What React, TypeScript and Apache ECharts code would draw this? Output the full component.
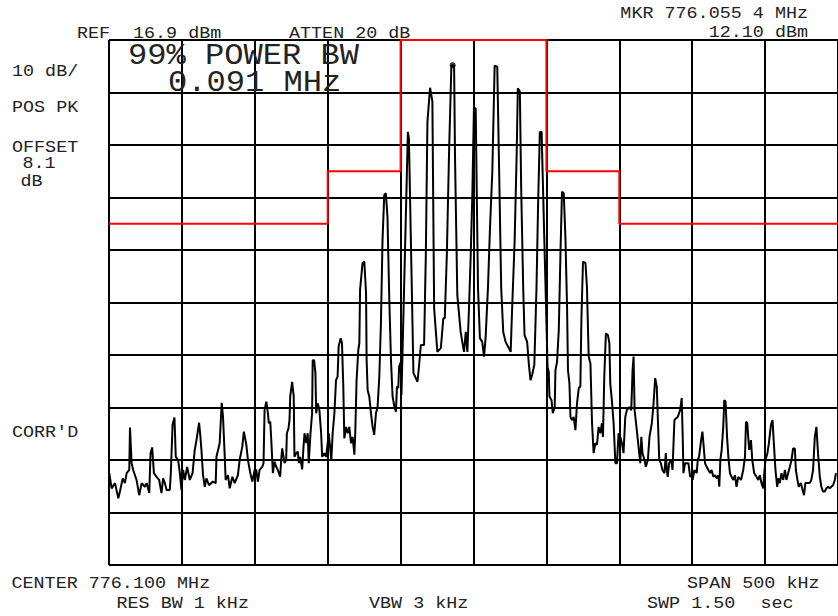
import React, { useEffect, useRef } from "react";
import * as echarts from "echarts";

// ---- instrument settings ----
const REF_DBM = 16.9;
const DB_RANGE = 100; // 10 dB/div x 10 div
const DB_PER_DIV = 10;
const SPAN_KHZ = 500;
const KHZ_PER_DIV = 50;

// ---- 99% power-bandwidth mask (red) ----
const MASK_FREQ_KHZ = [-250, -100, -100, -50, -50, 50, 50, 100, 100, 250];
const MASK_LEVEL_DBM = [-18.1, -18.1, -8.1, -8.1, 16.9, 16.9, -8.1, -8.1, -18.1, -18.1];

// ---- measured trace: [offset from center (kHz), level (dBm)] ----
const TRACE: [number, number][] = [
  [-249.8,-65.6],[-248.2,-68.5],[-245.9,-67.5],[-243.6,-70.4],[-242.5,-69.1],[-240.6,-66.6],[-239.1,-67.5],[-237.9,-65.6],[-236.1,-65.0],[-235.6,-56.9],
  [-234.5,-63.7],[-233.4,-65.0],[-231.1,-66.9],[-229.3,-69.8],[-227.6,-67.5],[-225.4,-68.2],[-224.2,-67.5],[-222.4,-69.4],[-221.5,-61.8],[-220.4,-60.7],
  [-219.2,-65.6],[-217.4,-66.3],[-215.6,-66.9],[-214.0,-69.4],[-212.9,-66.6],[-211.7,-67.5],[-210.5,-68.8],[-208.3,-68.8],[-207.6,-65.6],[-206.4,-56.4],
  [-205.1,-55.0],[-204.2,-62.5],[-202.6,-63.1],[-201.4,-65.6],[-200.3,-68.8],[-199.2,-65.0],[-198.0,-66.9],[-196.4,-64.4],[-194.6,-66.9],[-192.7,-65.6],
  [-191.2,-61.2],[-190.0,-59.3],[-188.2,-56.0],[-187.3,-58.7],[-186.6,-61.2],[-185.5,-66.0],[-184.3,-68.2],[-183.2,-66.6],[-181.4,-67.9],[-178.7,-67.2],
  [-176.8,-67.5],[-176.3,-62.5],[-174.1,-59.9],[-172.7,-52.2],[-171.8,-54.9],[-170.7,-61.8],[-170.0,-66.9],[-168.4,-66.0],[-167.2,-68.5],[-165.4,-66.3],
  [-163.8,-67.5],[-161.6,-66.0],[-160.4,-63.1],[-158.6,-60.6],[-157.5,-57.7],[-155.8,-60.2],[-154.7,-63.1],[-153.1,-65.6],[-151.7,-67.2],[-150.1,-65.0],
  [-149.0,-65.0],[-147.9,-67.2],[-146.7,-65.0],[-144.9,-64.4],[-144.0,-63.7],[-143.3,-53.6],[-142.1,-52.0],[-141.0,-54.2],[-140.4,-56.1],[-139.4,-55.8],
  [-138.7,-59.3],[-137.6,-65.6],[-136.5,-63.4],[-135.3,-64.4],[-134.2,-65.0],[-132.6,-66.3],[-131.9,-63.1],[-131.2,-60.9],[-130.3,-62.5],[-129.6,-63.7],
  [-128.5,-63.1],[-128.0,-58.0],[-126.9,-57.1],[-126.2,-55.5],[-125.7,-51.0],[-124.4,-48.2],[-123.3,-51.0],[-122.8,-62.5],[-121.6,-61.8],[-120.5,-61.5],
  [-119.8,-63.7],[-118.9,-62.5],[-117.5,-64.9],[-116.6,-60.6],[-115.9,-58.0],[-114.8,-59.9],[-113.7,-58.0],[-113.0,-63.7],[-111.8,-58.0],[-110.7,-54.2],
  [-110.3,-44.1],[-109.3,-44.1],[-108.4,-46.6],[-107.9,-54.2],[-106.8,-52.3],[-105.7,-53.6],[-104.5,-58.0],[-103.8,-62.5],[-102.3,-61.8],[-101.1,-62.5],
  [-100.0,-59.9],[-99.3,-58.0],[-98.4,-60.6],[-97.5,-63.1],[-96.6,-58.0],[-95.4,-54.2],[-94.3,-47.9],[-93.2,-47.2],[-92.5,-41.5],[-91.1,-39.9],
  [-90.2,-40.9],[-89.3,-49.1],[-88.6,-59.0],[-87.4,-56.8],[-86.3,-58.0],[-85.2,-56.8],[-84.0,-59.9],[-82.9,-58.7],[-81.7,-62.1],[-81.1,-58.0],
  [-80.2,-47.9],[-79.0,-42.1],[-78.3,-40.9],[-77.8,-30.7],[-76.1,-25.6],[-74.9,-25.3],[-73.7,-31.3],[-73.3,-44.1],[-72.6,-49.8],[-71.5,-51.0],
  [-70.3,-54.2],[-69.2,-56.8],[-68.1,-58.3],[-66.9,-54.2],[-65.8,-53.0],[-64.6,-47.2],[-63.5,-37.1],[-62.4,-21.2],[-61.2,-12.6],[-60.1,-12.3],
  [-59.0,-16.8],[-57.8,-32.0],[-56.6,-44.1],[-55.5,-51.0],[-54.2,-53.0],[-53.2,-53.9],[-52.5,-49.1],[-51.6,-49.4],[-51.0,-45.3],[-49.8,-44.4],
  [-49.4,-50.7],[-45.0,-0.6],[-44.3,-1.8],[-41.2,-46.5],[-38.4,-48.2],[-37.3,-45.0],[-36.1,-41.2],[-33.9,-41.2],[-32.7,-24.1],[-31.6,1.3],
  [-29.8,7.8],[-28.2,5.2],[-27.0,-34.2],[-25.8,-38.7],[-24.8,-42.5],[-22.4,-41.8],[-20.7,-36.1],[-19.7,-36.1],[-18.3,-24.1],[-16.8,-5.0],
  [-15.2,11.8],[-14.3,12.1],[-13.3,11.9],[-12.7,-5.0],[-11.1,-31.7],[-8.8,-38.7],[-7.7,-40.6],[-6.5,-42.5],[-5.3,-38.7],[-4.2,-42.5],
  [-3.1,-34.2],[-1.9,-24.1],[-0.8,-12.6],[0.3,3.9],[1.5,3.9],[2.2,-11.3],[3.1,-30.4],[4.4,-39.9],[6.0,-40.6],[7.2,-43.4],
  [8.3,-39.9],[9.9,-30.4],[11.3,-19.0],[12.9,-8.2],[14.5,12.0],[16.3,11.8],[17.4,-5.0],[19.0,-30.4],[20.4,-38.7],[22.0,-40.6],
  [24.3,-41.8],[25.5,-42.5],[26.5,-34.2],[28.2,-21.5],[29.6,-5.0],[30.4,7.7],[31.8,7.1],[32.7,-11.3],[34.1,-30.4],[35.0,-39.3],
  [36.8,-40.6],[38.0,-45.0],[39.1,-47.9],[40.2,-46.9],[41.7,-45.0],[43.2,-30.4],[44.3,-14.5],[45.5,-0.6],[46.7,-0.6],[50.8,-45.4],
  [51.6,-46.3],[52.1,-51.0],[53.5,-51.7],[54.4,-54.2],[55.7,-53.0],[56.2,-46.0],[57.3,-44.4],[58.5,-38.3],[59.7,-23.1],[60.7,-12.0],
  [61.9,-12.3],[63.1,-21.2],[64.2,-34.5],[64.8,-46.0],[65.8,-48.5],[66.5,-54.9],[67.6,-55.5],[68.7,-54.9],[69.9,-57.4],[71.0,-52.3],
  [72.2,-49.4],[73.3,-49.1],[74.0,-36.4],[75.1,-25.3],[76.8,-25.6],[77.8,-30.1],[79.0,-43.4],[80.2,-44.7],[81.3,-56.1],[82.4,-61.8],
  [83.6,-59.9],[84.7,-60.2],[85.8,-56.8],[87.0,-58.0],[88.1,-56.1],[88.8,-58.7],[89.7,-47.2],[90.8,-39.0],[92.2,-39.3],[93.2,-40.9],
  [93.8,-48.5],[94.9,-51.7],[96.1,-56.1],[97.3,-63.7],[98.4,-63.7],[99.5,-58.0],[100.7,-58.7],[101.8,-59.9],[102.9,-61.8],[104.1,-54.9],
  [105.2,-53.6],[106.8,-53.0],[108.2,-53.6],[109.1,-46.0],[109.8,-43.4],[110.5,-53.6],[112.0,-57.4],[113.2,-60.6],[114.4,-63.7],[115.1,-58.7],
  [115.9,-61.8],[117.3,-63.1],[118.2,-64.4],[119.6,-63.1],[120.7,-58.7],[122.3,-56.1],[123.5,-52.3],[124.6,-47.5],[125.7,-49.1],[126.4,-54.9],
  [127.4,-63.1],[128.5,-63.7],[129.6,-65.0],[131.0,-65.6],[131.9,-61.8],[132.6,-65.0],[133.2,-66.3],[134.2,-63.7],[135.6,-63.1],[136.5,-65.0],
  [137.8,-55.5],[138.7,-55.2],[140.1,-54.9],[141.7,-53.6],[142.8,-51.3],[143.5,-58.7],[144.0,-65.6],[145.1,-63.7],[147.4,-63.7],[148.6,-66.3],
  [149.7,-66.0],[150.3,-66.9],[151.5,-65.0],[153.1,-65.6],[153.8,-63.1],[154.7,-62.5],[156.1,-59.3],[157.0,-57.7],[157.9,-60.6],[158.8,-63.7],
  [159.9,-64.4],[161.1,-65.0],[162.3,-65.6],[163.3,-65.0],[164.5,-66.3],[165.7,-66.0],[166.8,-66.6],[167.9,-66.0],[168.6,-68.2],[169.3,-63.1],
  [170.2,-61.2],[171.3,-56.8],[172.0,-51.7],[172.9,-52.0],[173.9,-58.7],[174.8,-62.5],[175.9,-65.6],[177.0,-66.3],[178.2,-66.9],[179.3,-66.0],
  [180.4,-68.2],[181.6,-66.3],[183.5,-66.9],[185.0,-65.0],[186.2,-62.5],[186.9,-55.8],[187.8,-56.1],[188.4,-58.7],[189.1,-61.2],[190.3,-59.3],
  [191.2,-63.1],[192.5,-65.6],[194.1,-66.3],[195.3,-66.9],[196.4,-66.0],[197.5,-67.5],[198.7,-68.5],[199.4,-65.6],[200.3,-63.1],[201.6,-61.8],
  [202.6,-59.9],[204.0,-56.4],[205.1,-55.5],[206.0,-59.9],[207.1,-65.0],[208.3,-68.2],[209.0,-66.6],[210.1,-67.5],[211.2,-65.6],[212.4,-66.9],
  [213.6,-65.0],[214.6,-66.9],[215.8,-65.6],[217.0,-64.4],[218.1,-63.1],[219.2,-60.9],[220.4,-60.9],[221.1,-65.0],[222.2,-66.9],[223.1,-68.2],
  [224.5,-67.5],[225.4,-68.5],[226.7,-69.8],[227.6,-67.5],[229.0,-67.5],[230.6,-67.5],[231.7,-66.9],[232.9,-65.0],[234.1,-58.7],[235.2,-56.8],
  [236.3,-61.8],[237.5,-66.3],[238.6,-68.2],[239.7,-69.1],[240.9,-69.1],[242.0,-68.5],[243.2,-68.2],[244.3,-68.5],[245.4,-68.2],[246.6,-67.9],
  [247.8,-66.9],[248.6,-65.6],
];

// ---- annotation texts ----
const MKR_LINES = ["MKR 776.055 4 MHz", "12.10 dBm"];
const HEADER_TEXTS = ["REF", "16.9 dBm", "ATTEN 20 dB"];
const SIDE_TEXTS = ["10 dB/", "POS PK", "OFFSET", "8.1", "dB", "CORR'D"];
const BIG_TEXTS = ["99% POWER BW", "0.091 MHz"];
const FOOTER_TEXTS = ["CENTER 776.100 MHz", "SPAN 500 kHz", "RES BW 1 kHz", "VBW 3 kHz", "SWP 1.50", "sec"];

const FONT = '"Liberation Mono", "Courier New", monospace';
const INK = "#222222";

function txt(text: string, x: number, y: number, big: boolean = false, align: string = "left") {
  const size = big ? 30 : 16;
  return {
    type: "text",
    x,
    y: y + (big ? 2 : 1),
    z: 100,
    scaleX: big ? 1.07 : 1.15,
    style: {
      text,
      font: `normal ${size}px ${FONT}`,
      fill: INK,
      textAlign: align,
      align,
      textVerticalAlign: "middle",
      verticalAlign: "middle",
    },
  };
}

export default function App() {
  const ref = useRef<HTMLDivElement>(null);

  useEffect(() => {
    if (!ref.current) return;
    const chart = echarts.init(ref.current, undefined, { renderer: "svg" });

    const rel = (dbm: number) => +(dbm - REF_DBM).toFixed(2);
    const traceData = TRACE.map(([f, l]) => [f, rel(l)]);
    const maskData = MASK_FREQ_KHZ.map((f, i) => [f, rel(MASK_LEVEL_DBM[i])]);
    let mk = 0;
    TRACE.forEach((p, i) => {
      if (p[1] > TRACE[mk][1]) mk = i;
    });
    const markerData = [[TRACE[mk][0], rel(TRACE[mk][1])]];

    const gridLine = { show: true, lineStyle: { color: "#000", width: 2 } };

    chart.setOption({
      animation: false,
      backgroundColor: "#ffffff",
      grid: { left: 109, top: 40, width: 731, height: 525, show: false },
      xAxis: {
        type: "value",
        min: -SPAN_KHZ / 2,
        max: SPAN_KHZ / 2,
        interval: KHZ_PER_DIV,
        axisLine: { show: false },
        axisTick: { show: false },
        axisLabel: { show: false },
        splitLine: gridLine,
      },
      yAxis: {
        type: "value",
        min: -DB_RANGE,
        max: 0,
        interval: DB_PER_DIV,
        axisLine: { show: false },
        axisTick: { show: false },
        axisLabel: { show: false },
        splitLine: gridLine,
      },
      series: [
        {
          type: "line",
          data: maskData,
          symbol: "none",
          clip: false,
          z: 3,
          lineStyle: { color: "#ff0000", width: 2 },
        },
        {
          type: "line",
          data: traceData,
          symbol: "none",
          z: 4,
          lineStyle: { color: "#000000", width: 2 },
        },
        {
          type: "scatter",
          data: markerData,
          symbol: "circle",
          symbolSize: 6,
          z: 5,
          itemStyle: { color: "#000000" },
        },
      ],
      graphic: [
        txt(MKR_LINES[0], 808, 12.8, false, "right"),
        txt(MKR_LINES[1], 808, 32, false, "right"),
        txt(HEADER_TEXTS[0], 77, 33.3),
        txt(HEADER_TEXTS[1], 133, 33.3),
        txt(HEADER_TEXTS[2], 289, 33.3),
        txt(SIDE_TEXTS[0], 12, 70.8),
        txt(SIDE_TEXTS[1], 12, 107.2),
        txt(SIDE_TEXTS[2], 12, 147),
        txt(SIDE_TEXTS[3], 22.5, 162.7),
        txt(SIDE_TEXTS[4], 20.5, 181),
        txt(SIDE_TEXTS[5], 12, 432),
        txt(BIG_TEXTS[0], 128, 53.5, true),
        txt(BIG_TEXTS[1], 168, 80.5, true),
        txt(FOOTER_TEXTS[0], 11.5, 583.3),
        txt(FOOTER_TEXTS[1], 819.5, 583.3, false, "right"),
        txt(FOOTER_TEXTS[2], 116.5, 603.3),
        txt(FOOTER_TEXTS[3], 369, 603.3),
        txt(FOOTER_TEXTS[4], 647, 603.3),
        txt(FOOTER_TEXTS[5], 760.5, 603.3),
      ],
    });

    return () => chart.dispose();
  }, []);

  return (
    <div
      ref={ref}
      style={{ position: "fixed", left: 0, top: 0, width: 838, height: 616, background: "#fff" }}
    />
  );
}
